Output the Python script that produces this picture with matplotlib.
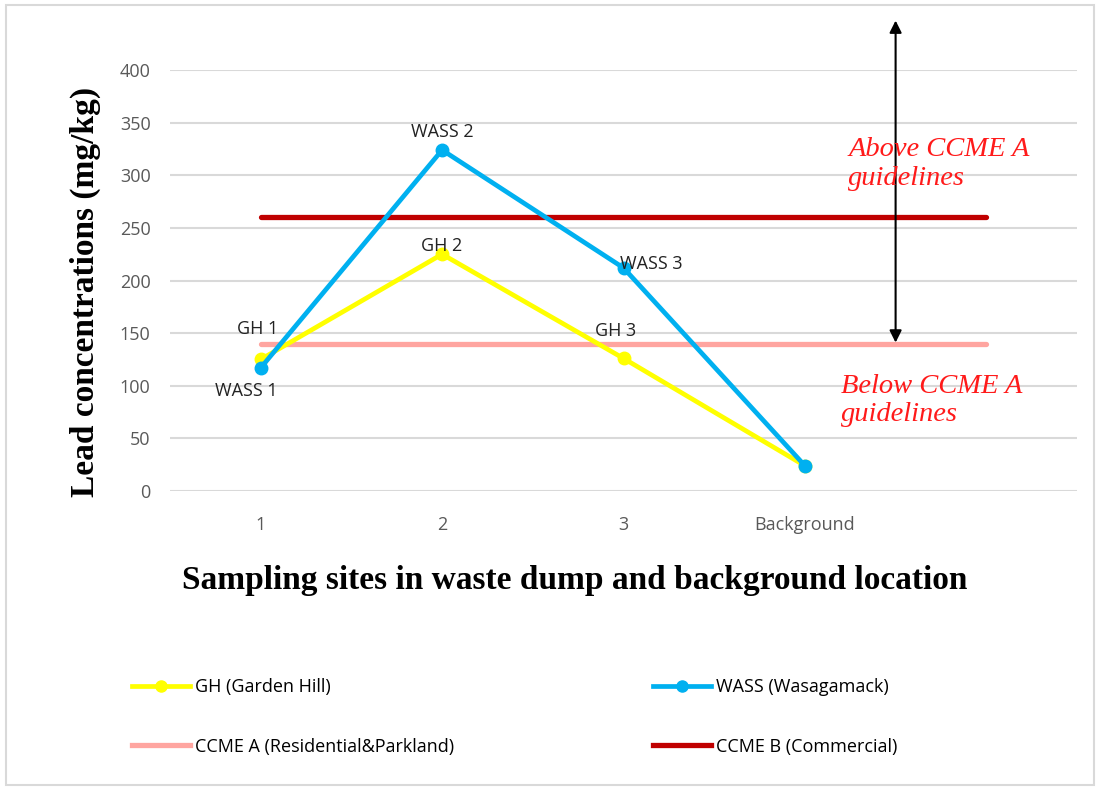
import matplotlib.pyplot as plt
from matplotlib.lines import Line2D

# Data
sites = ["1", "2", "3", "Background", ""]
gh_values = [125, 225, 126, 24]
wass_values = [117, 324, 212, 24]
ccme_a = [140, 140, 140, 140, 140]
ccme_b = [260, 260, 260, 260, 260]
gh_labels = ["GH 1", "GH 2", "GH 3", ""]
wass_labels = ["WASS 1", "WASS 2", "WASS 3", ""]
y_ticks = [0, 50, 100, 150, 200, 250, 300, 350, 400]

SANS = ["Liberation Sans Narrow", "Open Sans", "DejaVu Sans"]
SERIF = ["Liberation Serif", "DejaVu Serif"]

YELLOW = "#FFFF00"
BLUE = "#00B0F0"
PINK = "#FFA5A0"
DARKRED = "#C00000"

fig = plt.figure(figsize=(10.99, 7.88), dpi=100)
ax = fig.add_axes([170 / 1099, 1 - 491 / 788, 907 / 1099, 421 / 788])

x_all = list(range(1, len(sites) + 1))
x_pts = x_all[:len(gh_values)]

ax.plot(x_all, ccme_a, color=PINK, lw=3.8, solid_capstyle="round", zorder=2)
ax.plot(x_all, ccme_b, color=DARKRED, lw=3.8, solid_capstyle="round", zorder=2)
ax.plot(x_pts, gh_values, color=YELLOW, lw=3.4, marker="o", ms=9, zorder=3)
ax.plot(x_pts, wass_values, color=BLUE, lw=3.4, marker="o", ms=9, zorder=4)

# data labels
gh_offsets = [(-2, 22), (0, 6), (-6, 20)]
wass_offsets = [(-10, -17), (0, 13), (20, 3)]
for x, y, lab, off in zip(x_pts, gh_values, gh_labels, gh_offsets):
    ax.annotate(lab, (x, y), xytext=off, textcoords="offset points",
                ha="center", va="center", fontsize=13, family=SANS, color="#222222", zorder=5)
for x, y, lab, off in zip(x_pts, wass_values, wass_labels, wass_offsets):
    ax.annotate(lab, (x, y), xytext=off, textcoords="offset points",
                ha="center", va="center", fontsize=13, family=SANS, color="#222222", zorder=5)

# guideline annotations
ax.annotate("", xy=(4.5, 447), xytext=(4.5, 141), annotation_clip=False,
            arrowprops=dict(arrowstyle="<|-|>", color="black", lw=1.5,
                            mutation_scale=18, shrinkA=0, shrinkB=0))
ax.text(4.24, 311, "Above CCME A\nguidelines", color="#FF1A1A", style="italic",
        family=SERIF, fontsize=20.5, ha="left", va="center", linespacing=1.2)
ax.text(4.2, 86, "Below CCME A\nguidelines", color="#FF1A1A", style="italic",
        family=SERIF, fontsize=20.5, ha="left", va="center", linespacing=1.2)

ax.set_xlim(0.5, len(sites) + 0.5)
ax.set_ylim(0, 400)
ax.set_xticks(x_all)
ax.set_xticklabels(sites)
ax.set_yticks(y_ticks)
ax.grid(axis="y", color="#D9D9D9", lw=1.5)
ax.set_axisbelow(True)
for s in ax.spines.values():
    s.set_visible(False)
ax.tick_params(length=0, labelsize=13, labelcolor="#595959")
ax.tick_params(axis="x", pad=18)
ax.tick_params(axis="y", pad=14)
for t in ax.get_xticklabels() + ax.get_yticklabels():
    t.set_family(SANS)

fig.text(85 / 1099, 1 - 292 / 788, "Lead concentrations (mg/kg)", rotation=90,
         ha="center", va="center", family=SERIF, weight="bold", fontsize=24)
fig.text(575 / 1099, 1 - 580 / 788, "Sampling sites in waste dump and background location",
         ha="center", va="center", family=SERIF, weight="bold", fontsize=24)

handles = [
    Line2D([], [], color=YELLOW, lw=3.4, marker="o", ms=8),
    Line2D([], [], color=PINK, lw=3.8),
    Line2D([], [], color=BLUE, lw=3.4, marker="o", ms=8),
    Line2D([], [], color=DARKRED, lw=3.8),
]
labels = ["GH (Garden Hill)", "CCME A (Residential&Parkland)",
          "WASS (Wasagamack)", "CCME B (Commercial)"]
fig.legend(handles, labels, ncol=2, loc="upper left",
           bbox_to_anchor=(116 / 1099, 1 - 662 / 788), frameon=False,
           prop={"family": SANS, "size": 13}, handlelength=3.2, handletextpad=0.3,
           columnspacing=11.0, labelspacing=2.3)

# outer border
fig.patches.append(plt.Rectangle((6 / 1099, 3 / 788), 1088 / 1099, 780 / 788,
                                 transform=fig.transFigure, fill=False,
                                 edgecolor="#D9D9D9", lw=1.5))

fig.savefig("out.png", dpi=100)
